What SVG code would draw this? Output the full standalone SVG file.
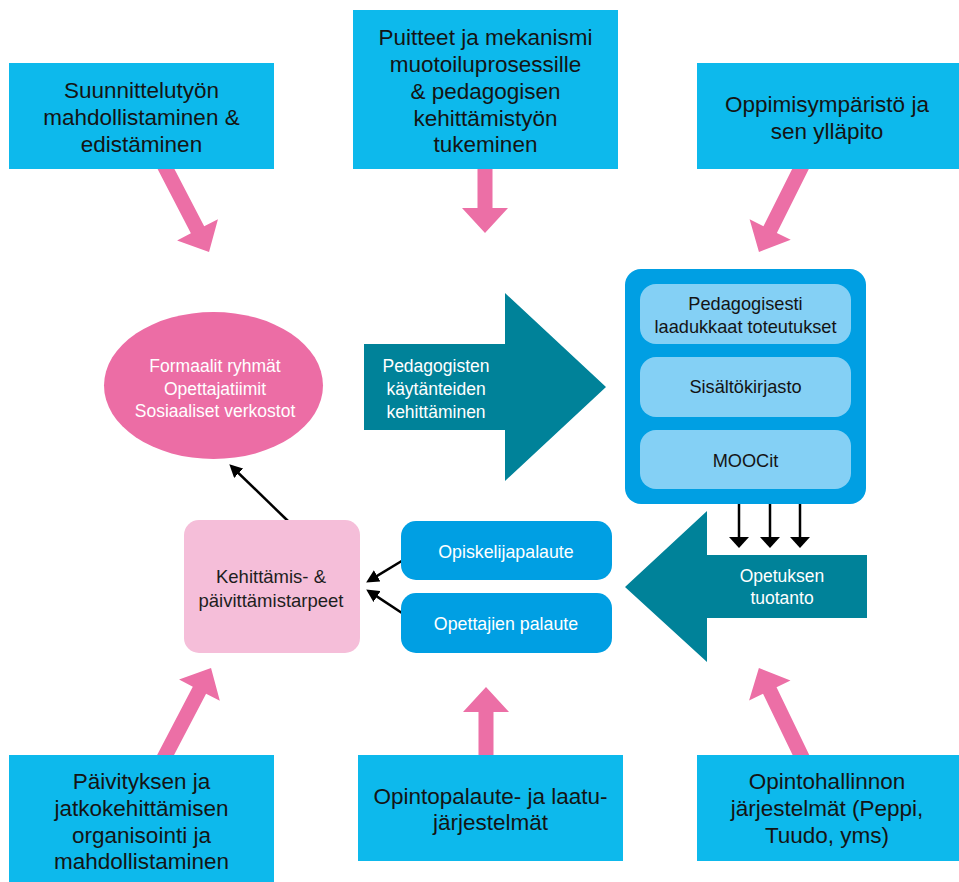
<svg xmlns="http://www.w3.org/2000/svg" width="959" height="882" viewBox="0 0 959 882">
  <style>
    text { font-family: "Liberation Sans", Arial, sans-serif; text-anchor: middle; }
    .src { fill: #0DB9EC; }
    .src-t { font-size: 22.5px; fill: #141414; }
    .pink-arrow { fill: #EC6FA6; }
    .flow { fill: #008299; }
    .flow-t { font-size: 17.5px; fill: #FFFFFF; }
    .fb { fill: #009FE3; }
    .fb-t { font-size: 17.8px; fill: #FFFFFF; }
    .inner { fill: #84D0F5; }
    .inner-t { font-size: 18.2px; fill: #141414; }
    .need-t { font-size: 18.5px; fill: #1E1E1E; }
    .link { stroke: #000; stroke-width: 2.5; fill: none; }
  </style>
  <defs>
    <marker id="head" markerUnits="userSpaceOnUse" viewBox="0 0 13 13" refX="4" refY="6.5" markerWidth="13" markerHeight="13" orient="auto">
      <path d="M0,0 L13,6.5 L0,13 Z" fill="#000"/>
    </marker>
    <marker id="head-wide" markerUnits="userSpaceOnUse" viewBox="0 0 11 20" refX="3" refY="10" markerWidth="11" markerHeight="20" orient="auto">
      <path d="M0,0 L11,10 L0,20 Z" fill="#000"/>
    </marker>
  </defs>

  <rect width="959" height="882" fill="#FFFFFF"/>

  <!-- connectors -->
  <g id="connectors">
    <!-- block arrows from the outer boxes -->
    <g transform="translate(161.4,160.1) rotate(62.6)"><path class="pink-arrow" d="M0,-7.5 H78.5 V-23 L103.5,0 L78.5,23 V7.5 H0 Z"/></g>
    <g transform="translate(485,160) rotate(90)"><path class="pink-arrow" d="M0,-7.5 H48 V-23 L73,0 L48,23 V7.5 H0 Z"/></g>
    <g transform="translate(805,160) rotate(116.6)"><path class="pink-arrow" d="M0,-7.5 H77.8 V-23 L102.8,0 L77.8,23 V7.5 H0 Z"/></g>
    <g transform="translate(160.9,763.9) rotate(-62.4)"><path class="pink-arrow" d="M0,-7.5 H83.2 V-23 L108.2,0 L83.2,23 V7.5 H0 Z"/></g>
    <g transform="translate(486,765) rotate(-90)"><path class="pink-arrow" d="M0,-7.5 H53 V-23 L78,0 L53,23 V7.5 H0 Z"/></g>
    <g transform="translate(805.3,764) rotate(-115.8)"><path class="pink-arrow" d="M0,-7.5 H81.6 V-23 L106.6,0 L81.6,23 V7.5 H0 Z"/></g>

    <!-- thin black arrows -->
    <line class="link" x1="288" y1="521" x2="235.8" y2="470.5" marker-end="url(#head)"/>
    <line class="link" x1="405" y1="559" x2="373.8" y2="577.9" marker-end="url(#head)"/>
    <line class="link" x1="405" y1="615" x2="373.7" y2="594.4" marker-end="url(#head)"/>
    <line class="link" x1="739" y1="500" x2="739" y2="540" marker-end="url(#head-wide)"/>
    <line class="link" x1="770" y1="500" x2="770" y2="540" marker-end="url(#head-wide)"/>
    <line class="link" x1="800" y1="500" x2="800" y2="540" marker-end="url(#head-wide)"/>
  </g>

  <!-- outer boxes -->
  <g id="suunnittelu">
    <rect class="src" x="9" y="63" width="265" height="106"/>
    <text class="src-t" x="141.5" y="98">Suunnittelutyön</text>
    <text class="src-t" x="141.5" y="125">mahdollistaminen &amp;</text>
    <text class="src-t" x="141.5" y="152">edistäminen</text>
  </g>
  <g id="puitteet">
    <rect class="src" x="353" y="10" width="265" height="159"/>
    <text class="src-t" x="485.5" y="45">Puitteet ja mekanismi</text>
    <text class="src-t" x="485.5" y="72">muotoiluprosessille</text>
    <text class="src-t" x="485.5" y="99">&amp; pedagogisen</text>
    <text class="src-t" x="485.5" y="126">kehittämistyön</text>
    <text class="src-t" x="485.5" y="152">tukeminen</text>
  </g>
  <g id="oppimisymparisto">
    <rect class="src" x="697" y="63" width="262" height="106"/>
    <text class="src-t" x="827" y="112">Oppimisympäristö ja</text>
    <text class="src-t" x="827" y="139">sen ylläpito</text>
  </g>
  <g id="paivitys">
    <rect class="src" x="9" y="755" width="265" height="127"/>
    <text class="src-t" x="141.5" y="789">Päivityksen ja</text>
    <text class="src-t" x="141.5" y="816">jatkokehittämisen</text>
    <text class="src-t" x="141.5" y="843">organisointi ja</text>
    <text class="src-t" x="141.5" y="869">mahdollistaminen</text>
  </g>
  <g id="opintopalaute">
    <rect class="src" x="358" y="755" width="265" height="106"/>
    <text class="src-t" x="490.5" y="804">Opintopalaute- ja laatu-</text>
    <text class="src-t" x="490.5" y="830">järjestelmät</text>
  </g>
  <g id="opintohallinto">
    <rect class="src" x="697" y="755" width="262" height="106"/>
    <text class="src-t" x="827" y="789">Opintohallinnon</text>
    <text class="src-t" x="827" y="816">järjestelmät (Peppi,</text>
    <text class="src-t" x="827" y="843">Tuudo, yms)</text>
  </g>

  <!-- communities -->
  <g id="yhteisot">
    <ellipse cx="213.5" cy="385.5" rx="109.5" ry="73.5" fill="#EC6DA5"/>
    <text class="flow-t" x="215" y="372">Formaalit ryhmät</text>
    <text class="flow-t" x="215" y="394.5">Opettajatiimit</text>
    <text class="flow-t" x="215" y="417">Sosiaaliset verkostot</text>
  </g>

  <!-- development arrow -->
  <g id="kehittaminen">
    <path class="flow" d="M364,344 H505 V293 L606,387 L505,481 V430 H364 Z"/>
    <text class="flow-t" x="436" y="372">Pedagogisten</text>
    <text class="flow-t" x="436" y="395">käytänteiden</text>
    <text class="flow-t" x="436" y="418">kehittäminen</text>
  </g>

  <!-- learning content -->
  <g id="sisallot">
    <rect x="625" y="269" width="241" height="235" rx="16" fill="#009FE3"/>
    <rect class="inner" x="640" y="284" width="211" height="60" rx="16"/>
    <text class="inner-t" x="745.5" y="310">Pedagogisesti</text>
    <text class="inner-t" x="745.5" y="333">laadukkaat toteutukset</text>
    <rect class="inner" x="640" y="357" width="211" height="60" rx="16"/>
    <text class="inner-t" x="745.5" y="393">Sisältökirjasto</text>
    <rect class="inner" x="640" y="430" width="211" height="59" rx="16"/>
    <text class="inner-t" x="745.5" y="467">MOOCit</text>
  </g>

  <!-- production arrow -->
  <g id="tuotanto">
    <path class="flow" d="M867,555 H707 V511 L625,587 L707,662 V618 H867 Z"/>
    <text class="flow-t" x="782" y="582">Opetuksen</text>
    <text class="flow-t" x="782" y="604">tuotanto</text>
  </g>

  <!-- feedback -->
  <g id="opiskelijapalaute">
    <rect class="fb" x="401" y="521" width="211" height="59" rx="15"/>
    <text class="fb-t" x="506" y="558">Opiskelijapalaute</text>
  </g>
  <g id="opettajapalaute">
    <rect class="fb" x="401" y="593" width="211" height="60" rx="15"/>
    <text class="fb-t" x="506" y="630">Opettajien palaute</text>
  </g>

  <!-- needs -->
  <g id="tarpeet">
    <rect x="184" y="520" width="176" height="133" rx="15" fill="#F5BED9"/>
    <text class="need-t" x="271" y="583">Kehittämis- &amp;</text>
    <text class="need-t" x="271" y="607">päivittämistarpeet</text>
  </g>
</svg>
